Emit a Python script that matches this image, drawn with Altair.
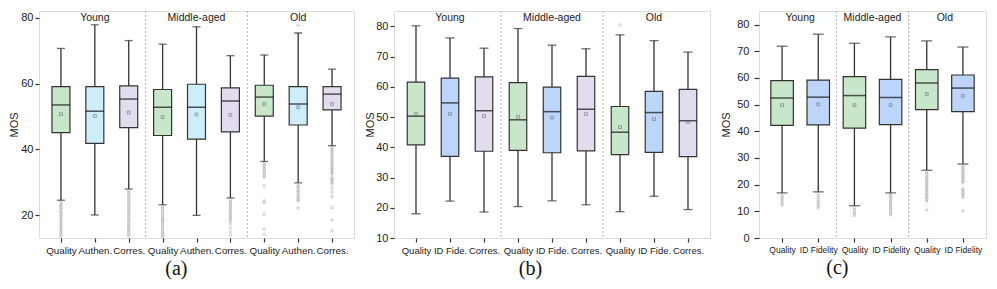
import altair as alt
import pandas as pd

GROUPS = ["Young", "Middle-aged", "Old"]

# ---------------- panel (a) ----------------
A_METRICS = ["Quality", "Authen.", "Corres."]
A_LOW = [24.5, 20.0, 27.9, 23.1, 19.9, 25.2, 36.3, 29.8, 41.1]
A_Q1 = [45.1, 41.8, 46.6, 44.2, 43.1, 45.3, 50.1, 47.4, 52.0]
A_MED = [53.5, 51.6, 55.3, 52.8, 52.8, 54.7, 55.9, 53.8, 56.8]
A_Q3 = [59.1, 59.1, 59.3, 58.2, 59.8, 58.7, 59.5, 59.1, 59.1]
A_HIGH = [70.7, 77.9, 73.1, 72.0, 77.3, 68.5, 68.7, 75.4, 64.4]
A_MEAN = [50.7, 50.2, 51.2, 49.8, 50.6, 50.5, 53.8, 52.8, 53.8]
A_OUTLIERS = [
    [23.9, 23.3, 22.8, 22.2, 21.7, 21.1, 20.6, 20.0, 19.5, 18.9, 18.4, 17.8, 17.3, 16.7, 16.2, 15.6, 15.1, 14.5, 14.0, 13.4],
    [],
    [27.3, 26.8, 26.2, 25.7, 25.1, 24.6, 24.0, 23.5, 22.9, 22.4, 21.8, 21.3, 20.7, 20.2, 19.6, 19.1, 18.5, 18.0, 17.4, 16.9, 16.3, 15.8, 15.2, 14.7, 14.1, 13.6],
    [22.5, 22.0, 21.4, 20.9, 20.3, 19.8, 19.2, 18.7, 18.1, 17.6, 17.0, 16.5, 15.9, 15.4, 14.8, 14.3, 13.7, 13.2],
    [],
    [24.6, 24.1, 23.5, 23.0, 22.4, 21.9, 21.3, 20.8, 20.2, 19.7, 19.1, 18.6, 18.0, 17.2, 16.0, 14.9, 13.8],
    [35.8, 35.3, 34.8, 34.2, 33.6, 33.1, 32.5, 32.0, 31.5, 28.9, 24.3, 23.8, 20.2, 15.7, 14.1],
    [77.7, 29.1, 28.5, 28.0, 27.4, 26.9, 26.3, 25.8, 25.2, 24.7, 24.3, 22.1],
    [40.5, 40.0, 39.5, 38.9, 38.4, 37.8, 37.3, 36.7, 36.2, 35.6, 35.1, 34.5, 34.0, 33.4, 32.9, 32.4,
     31.5, 30.9, 30.4, 29.8, 29.3, 28.1, 27.0, 25.6, 22.3, 18.4, 15.2],
]

# ---------------- panel (b) ----------------
B_METRICS = ["Quality", "ID Fide.", "Corres."]
B_LOW = [18.0, 22.2, 18.6, 20.4, 22.3, 21.0, 18.7, 23.8, 19.4]
B_Q1 = [40.8, 37.0, 38.7, 39.0, 38.2, 38.8, 37.6, 38.3, 36.9]
B_MED = [50.3, 54.7, 52.1, 49.1, 51.8, 52.6, 45.0, 51.5, 48.8]
B_Q3 = [61.6, 62.9, 63.3, 61.4, 59.9, 63.5, 53.5, 58.5, 59.2]
B_HIGH = [80.2, 76.2, 72.8, 79.3, 73.8, 72.6, 77.2, 75.3, 71.5]
B_MEAN = [51.1, 51.1, 50.3, 50.1, 49.8, 51.0, 46.7, 49.3, 48.3]
B_OUTLIERS = [[], [], [], [], [], [], [80.5], [], []]

# ---------------- panel (c) ----------------
C_METRICS = ["Quality", "ID Fidelity"]
C_LOW = [16.9, 17.3, 12.1, 16.9, 25.4, 27.7]
C_Q1 = [42.2, 42.4, 41.2, 42.5, 48.1, 47.4]
C_MED = [52.5, 52.8, 53.4, 52.7, 58.1, 56.2]
C_Q3 = [59.0, 59.2, 60.5, 59.5, 63.1, 61.1]
C_HIGH = [71.9, 76.4, 73.0, 75.4, 73.9, 71.6]
C_MEAN = [49.8, 50.1, 49.8, 49.8, 54.0, 53.3]
C_OUTLIERS = [
    [16.2, 15.4, 14.7, 13.9, 13.1, 12.3],
    [16.7, 15.9, 15.1, 14.4, 13.6, 12.8, 12.0, 11.3],
    [11.4, 10.6, 9.8, 9.1, 8.4],
    [16.4, 15.8, 15.1, 14.5, 13.8, 13.2, 12.5, 11.9, 11.2, 10.6, 9.9, 9.3, 8.7],
    [24.9, 24.3, 23.6, 22.9, 22.3, 21.6, 21.0, 20.3, 19.6, 19.0, 18.3, 17.7, 17.0, 16.3, 15.7, 15.0, 14.4, 13.7, 10.5],
    [27.2, 26.6, 25.9, 25.3, 24.6, 24.0, 23.3, 22.7, 22.0, 21.4, 20.7, 18.4, 17.8, 17.1, 16.5, 15.8, 15.2, 10.1],
]

FILL = {
    "Quality": "#c8e6c9",
    "Authen.": "#cdeef8",
    "Corres.": "#e3dcef",
    "ID Fide.": "#bdd5fa",
    "ID Fidelity": "#bdd5fa",
}
EDGE = "#333333"
FONT = "Liberation Sans"
HEIGHT = 227


def panel(metrics, low, q1, med, q3, high, mean, outliers, ydomain, yticks,
          width, box_w, cap_w, title, title_pad, label_pad, tick_size, xfont, title_dx):
    n_m = len(metrics)
    rows = []
    for g_i, g in enumerate(GROUPS):
        for m_i, m in enumerate(metrics):
            k = g_i * n_m + m_i
            rows.append(dict(pos=k, group=g, metric=m, low=low[k], q1=q1[k], med=med[k],
                             q3=q3[k], high=high[k], mean=mean[k]))
    box = pd.DataFrame(rows)
    out = pd.DataFrame([dict(pos=k, value=v) for k, vals in enumerate(outliers) for v in vals])
    seps = pd.DataFrame({"pos": [n_m * i - 0.5 for i in range(1, len(GROUPS))]})
    heads = pd.DataFrame({"pos": [n_m * i + (n_m - 1) / 2 for i in range(len(GROUPS))], "text": GROUPS})
    n = len(box)

    labels_js = "[" + ",".join("'" + m + "'" for m in metrics) + "]"
    xscale = alt.Scale(domain=[-0.5, n - 0.5], nice=False, zero=False)
    yscale = alt.Scale(domain=ydomain, nice=False, zero=False)
    xax = alt.Axis(values=list(range(n)), labelExpr=labels_js + "[datum.value % " + str(n_m) + "]",
                   title=None, grid=False, domain=False, tickSize=4, tickColor=EDGE, tickWidth=1.2,
                   labelFontSize=xfont, labelPadding=3, labelColor="#222", labelFont=FONT,
                   labelFlush=False, labelOverlap=False)
    yax = alt.Axis(values=yticks, title="MOS", grid=False, domain=False, tickSize=tick_size,
                   tickColor=EDGE, tickWidth=1.2, labelFontSize=11, labelPadding=label_pad,
                   labelColor="#222", labelFont=FONT, titleFont=FONT, titleFontSize=11,
                   titleFontWeight="normal", titleColor="#222", titlePadding=title_pad)

    def X(field="pos"):
        return alt.X(field + ":Q", scale=xscale, axis=xax)

    def Y(field):
        return alt.Y(field + ":Q", scale=yscale, axis=yax)

    color = alt.Color("metric:N", scale=alt.Scale(domain=metrics, range=[FILL[m] for m in metrics]), legend=None)

    sep = alt.Chart(seps).mark_rule(color="#b0b0b0", strokeDash=[2, 2], strokeWidth=1).encode(x=X())
    base = alt.Chart(box)
    whisk = base.mark_rule(color=EDGE, strokeWidth=1.3).encode(x=X(), y=Y("low"), y2="high:Q")
    bars = base.mark_bar(size=box_w, stroke=EDGE, strokeWidth=1.2).encode(
        x=X(), y=Y("q1"), y2="q3:Q", color=color)
    median = base.mark_tick(orient="horizontal", size=box_w, thickness=1.5, color="#111").encode(
        x=X(), y=Y("med"))
    cap_lo = base.mark_tick(orient="horizontal", size=cap_w, thickness=1.3, color=EDGE).encode(
        x=X(), y=Y("low"))
    cap_hi = base.mark_tick(orient="horizontal", size=cap_w, thickness=1.3, color=EDGE).encode(
        x=X(), y=Y("high"))
    means = base.mark_point(shape="square", size=8, filled=False, color="#666", strokeWidth=0.8).encode(
        x=X(), y=Y("mean"))
    layers = [sep, whisk, bars, median, cap_lo, cap_hi, means]
    if len(out):
        pts = alt.Chart(out).mark_point(shape="circle", size=6, filled=False, color="#8a8a8a",
                                        strokeWidth=0.6, clip=True).encode(x=X(), y=Y("value"))
        layers.append(pts)
    head = alt.Chart(heads).mark_text(fontSize=10.5, color="#222", font=FONT, baseline="middle").encode(
        x=X(), y=alt.value(7), text="text:N")
    layers.append(head)
    return alt.layer(*layers).properties(
        width=width, height=HEIGHT,
        title=alt.TitleParams(title, orient="bottom", font="Liberation Serif", fontSize=20,
                              fontWeight="normal", anchor="middle", frame="bounds", offset=4,
                              dx=title_dx, color="#111"))


pa = panel(A_METRICS, A_LOW, A_Q1, A_MED, A_Q3, A_HIGH, A_MEAN, A_OUTLIERS,
           [13, 82.1], [20, 40, 60, 80], 315, 18, 8, "(a)", 1, 2, 4, 9.8, -5)
pb = panel(B_METRICS, B_LOW, B_Q1, B_MED, B_Q3, B_HIGH, B_MEAN, B_OUTLIERS,
           [10, 85.1], [10, 20, 30, 40, 50, 60, 70, 80], 316, 17.5, 9, "(b)", 0, 2, 4, 9.5, -7)
pc = panel(C_METRICS, C_LOW, C_Q1, C_MED, C_Q3, C_HIGH, C_MEAN, C_OUTLIERS,
           [0, 85.1], [0, 10, 20, 30, 40, 50, 60, 70, 80], 227, 22.5, 11, "(c)", 5, 5, 5, 8.5, -16)

chart = alt.hconcat(pa, pb, pc, spacing=9).resolve_scale(
    x="independent", y="independent", color="independent"
).properties(
    padding={"left": 0, "top": 2, "right": 0, "bottom": 0}
).configure_view(stroke="#444", strokeWidth=1.3).configure(font=FONT)

chart.save("out.html", embed_options={"renderer": "svg", "actions": False})
